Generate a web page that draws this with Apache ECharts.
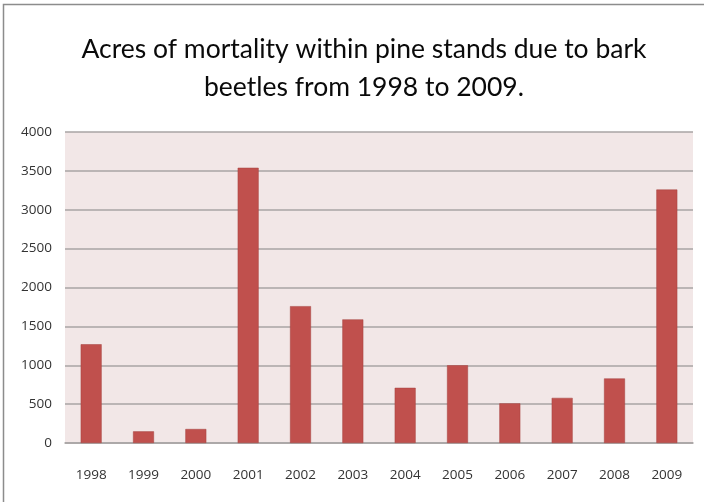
<!DOCTYPE html>
<html>
<head>
<meta charset="utf-8">
<script src="https://cdn.jsdelivr.net/npm/echarts@6/dist/echarts.min.js"></script>
<style>
  html, body { margin: 0; padding: 0; background: #fff; }
  #chart { width: 704px; height: 502px; }
</style>
</head>
<body>
<div id="chart"></div>
<script>
// Bark beetle mortality, acres per year
const years = ['1998', '1999', '2000', '2001', '2002', '2003', '2004', '2005', '2006', '2007', '2008', '2009'];
const acres = [1270, 150, 180, 3540, 1760, 1590, 710, 1000, 510, 580, 830, 3260];
const yTicks = [0, 500, 1000, 1500, 2000, 2500, 3000, 3500, 4000];

const chart = echarts.init(document.getElementById('chart'));
const labelFont = '"Open Sans", "Liberation Sans", sans-serif';

chart.setOption({
  animation: false,
  backgroundColor: '#ffffff',
  graphic: [{
    type: 'rect',
    shape: { x: 3.5, y: 4.5, width: 720, height: 520 },
    style: { fill: 'none', stroke: '#8c8c8c', lineWidth: 1.5 },
    silent: true
  }],
  title: {
    text: 'Acres of mortality within pine stands due to bark\nbeetles from 1998 to 2009.',
    left: 359,
    top: 25,
    textAlign: 'center',
    textStyle: {
      fontFamily: 'Lato, "Open Sans", sans-serif',
      fontSize: 26.5,
      fontWeight: 'normal',
      color: '#0a0a0a',
      lineHeight: 38
    }
  },
  grid: {
    left: 65,
    right: 11,
    top: 132,
    bottom: 59,
    show: true,
    backgroundColor: '#f2e7e7',
    borderWidth: 0
  },
  xAxis: {
    type: 'category',
    data: years,
    axisTick: { show: false },
    axisLine: { lineStyle: { color: '#a8a4a4', width: 1.5 } },
    axisLabel: {
      margin: 25,
      fontFamily: labelFont,
      fontSize: 13.5,
      color: '#333'
    }
  },
  yAxis: {
    type: 'value',
    min: yTicks[0],
    max: yTicks[yTicks.length - 1],
    interval: yTicks[1] - yTicks[0],
    axisLine: { show: false },
    axisTick: { show: false },
    splitLine: { lineStyle: { color: '#a8a4a4', width: 1.5 } },
    axisLabel: {
      margin: 13,
      fontFamily: labelFont,
      fontSize: 13.5,
      color: '#333',
      formatter: function (v) { return String(v); }
    }
  },
  series: [{
    type: 'bar',
    data: acres,
    barCategoryGap: '60%',
    itemStyle: { color: '#c0504d', borderColor: '#a5413e', borderWidth: 0.5 }
  }]
});
</script>
</body>
</html>
